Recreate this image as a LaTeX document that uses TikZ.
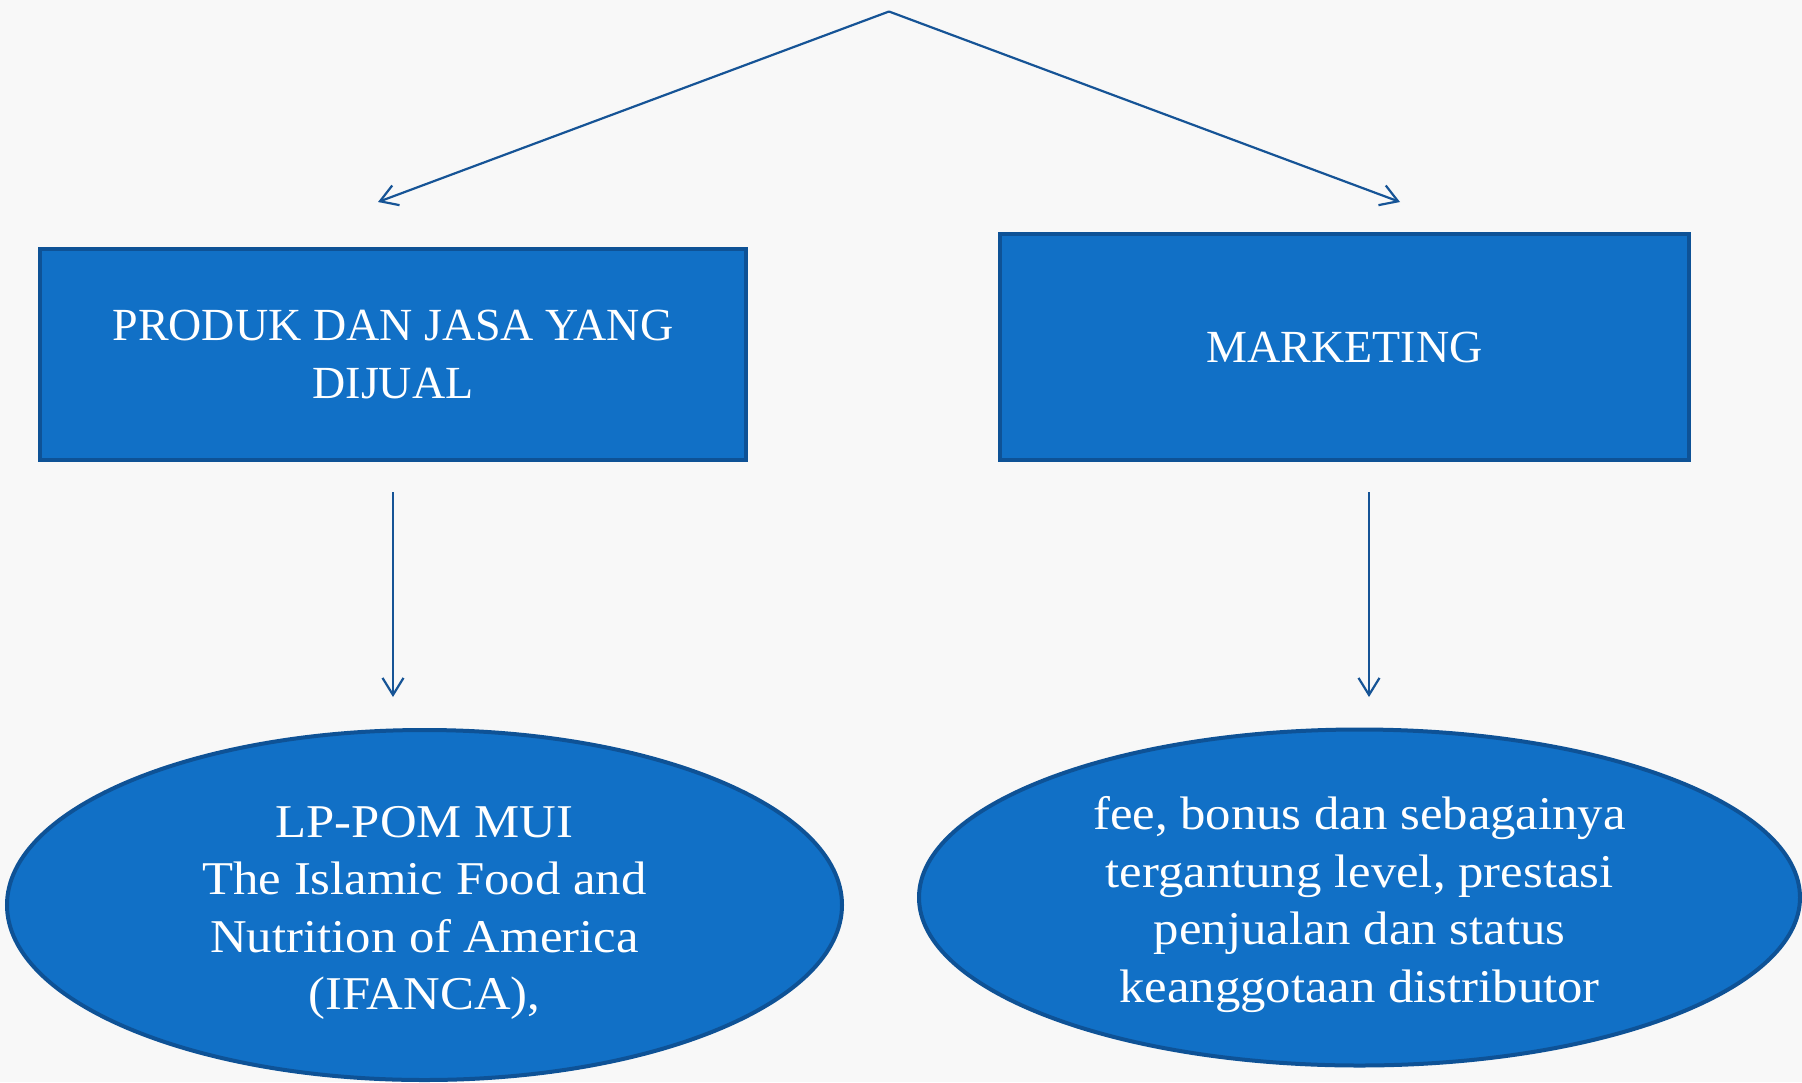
\documentclass[tikz,border=0pt]{standalone}
\usepackage{fontspec}
\setmainfont{Liberation Serif}
\newfontfamily\widefont[FakeStretch=1.08]{Liberation Serif}
\usetikzlibrary{arrows.meta,shapes.geometric}
\definecolor{bgc}{RGB}{248,248,248}
\definecolor{fillblue}{RGB}{17,112,198}
\definecolor{edgeblue}{RGB}{14,82,150}
\definecolor{arrowblue}{RGB}{22,84,150}
\newcommand{\ovaltext}[1]{\raisebox{-7pt}[\height][\depth]{\begin{tabular}{@{}c@{}}#1\end{tabular}}}
\tikzset{
  bluebox/.style={draw=edgeblue,line width=4pt,fill=fillblue,text=white,
    rectangle,inner sep=0pt,align=center,font=\fontsize{46}{58}\selectfont},
  blueoval/.style={draw=edgeblue,line width=4pt,fill=fillblue,text=white,
    ellipse,inner sep=0pt,align=center,font=\widefont\fontsize{47}{57.5}\selectfont},
  conn/.style={draw=arrowblue,line width=2.2pt,-{Straight Barb[length=17pt,width=21pt,line width=2.2pt]}}
}
\begin{document}
\begin{tikzpicture}[x=1pt,y=-1pt]
\fill[bgc] (0,0) rectangle (1802,1082);
\useasboundingbox (0,0) rectangle (1802,1082);
\node[bluebox,minimum width=706pt,minimum height=211pt] (lbox) at (393,354.5) {PRODUK DAN JASA YANG\\DIJUAL};
\node[bluebox,minimum width=689pt,minimum height=226pt] (rbox) at (1344.5,347) {MARKETING};
\node[blueoval,minimum width=835pt,minimum height=350pt] (lell) at (424.5,905) {\ovaltext{LP-POM MUI\\The Islamic Food and\\Nutrition of America\\(IFANCA),}};
\node[blueoval,minimum width=881pt,minimum height=336pt] (rell) at (1359.5,897.5) {\ovaltext{fee, bonus dan sebagainya\\tergantung level, prestasi\\penjualan dan status\\keanggotaan distributor}};
\coordinate (apex) at (889,11.5);
\coordinate (ltip) at (378,202);
\coordinate (rtip) at (1400,202);
\coordinate (lstart) at (393,492);
\coordinate (lend) at (393,697);
\coordinate (rstart) at (1369,492);
\coordinate (rend) at (1369,697);
\draw[conn] (apex) -- (ltip);
\draw[conn] (apex) -- (rtip);
\draw[conn] (lstart) -- (lend);
\draw[conn] (rstart) -- (rend);
\end{tikzpicture}
\end{document}
